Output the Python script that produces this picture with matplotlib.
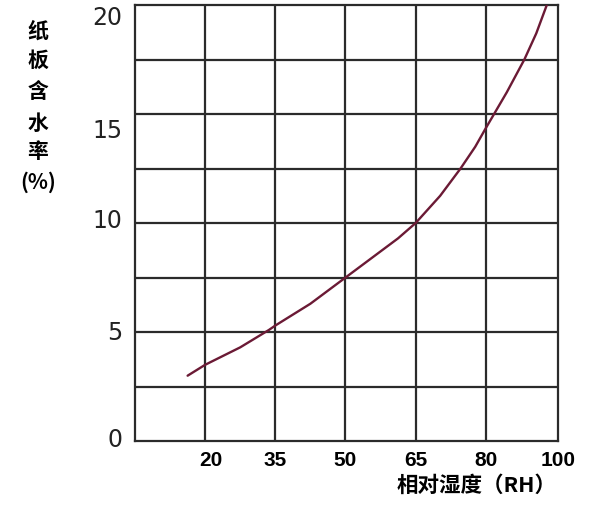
import matplotlib
matplotlib.use("Agg")
from matplotlib import pyplot as plt

plt.rcParams['font.family'] = ['Noto Sans CJK SC', 'DejaVu Sans']

# x is the grid column index (labels are not evenly spaced in value)
x_labels = ['20', '35', '50', '65', '80', '100']
x_label_pos = [1.08, 2, 3, 4, 5, 6.03]
y_labels = ['0', '5', '10', '15', '20']
y_label_pos = [0.18, 5.09, 10.23, 14.36, 19.5]

# curve, in column units
curve_x = [0.75, 1.0, 1.5, 1.91, 2.0, 2.5, 3.0, 3.5, 3.75, 4.0, 4.35, 4.64,
           4.85, 5.0, 5.3, 5.55, 5.72, 5.87]
curve_y = [3.0, 3.5, 4.3, 5.1, 5.3, 6.3, 7.5, 8.7, 9.3, 10.0, 11.25, 12.5,
           13.5, 14.35, 16.0, 17.5, 18.7, 20.0]

fig = plt.figure(figsize=(6, 5.07), dpi=100)
ax = fig.add_axes([0.225, 0.130, 0.705, 0.860])

ax.set_xlim(0, 6)
ax.set_ylim(0, 20)

# inner grid: every column and every 2.5 units (frame is drawn by the spines)
for gx in range(1, 6):
    ax.axvline(gx, color='#2b2b2b', lw=1.6, zorder=1)
for gy in [i * 2.5 for i in range(1, 8)]:
    ax.axhline(gy, color='#2b2b2b', lw=1.6, zorder=1)

ax.plot(curve_x, curve_y, color='#6b1a35', lw=1.7, zorder=3, solid_capstyle='round')

for s in ax.spines.values():
    s.set_color('#2b2b2b')
    s.set_linewidth(1.6)

ax.set_xticks(x_label_pos)
ax.set_xticklabels(x_labels, fontsize=15, fontweight='bold', family=['Liberation Sans', 'DejaVu Sans'])
ax.set_yticks(y_label_pos)
ax.set_yticklabels(y_labels, fontsize=17, color='#222222', family=['DejaVu Sans'])
ax.tick_params(axis='both', length=0)
ax.tick_params(axis='x', pad=7)
ax.tick_params(axis='y', pad=9)

# stacked vertical y-axis title
ylab_chars = ['纸', '板', '含', '水', '率', '(%)']
ylab_pix = [31, 60, 92, 123, 152, 182]
for ch, py in zip(ylab_chars, ylab_pix):
    fig.text(38 / 600, 1 - py / 507, ch, ha='center', va='center', fontsize=15, fontweight='bold')

fig.text(477 / 600, 1 - 485 / 507, '相对湿度（RH）', ha='center', va='center', fontsize=15.5,
         fontweight='bold')

fig.savefig('out.png', dpi=100)
